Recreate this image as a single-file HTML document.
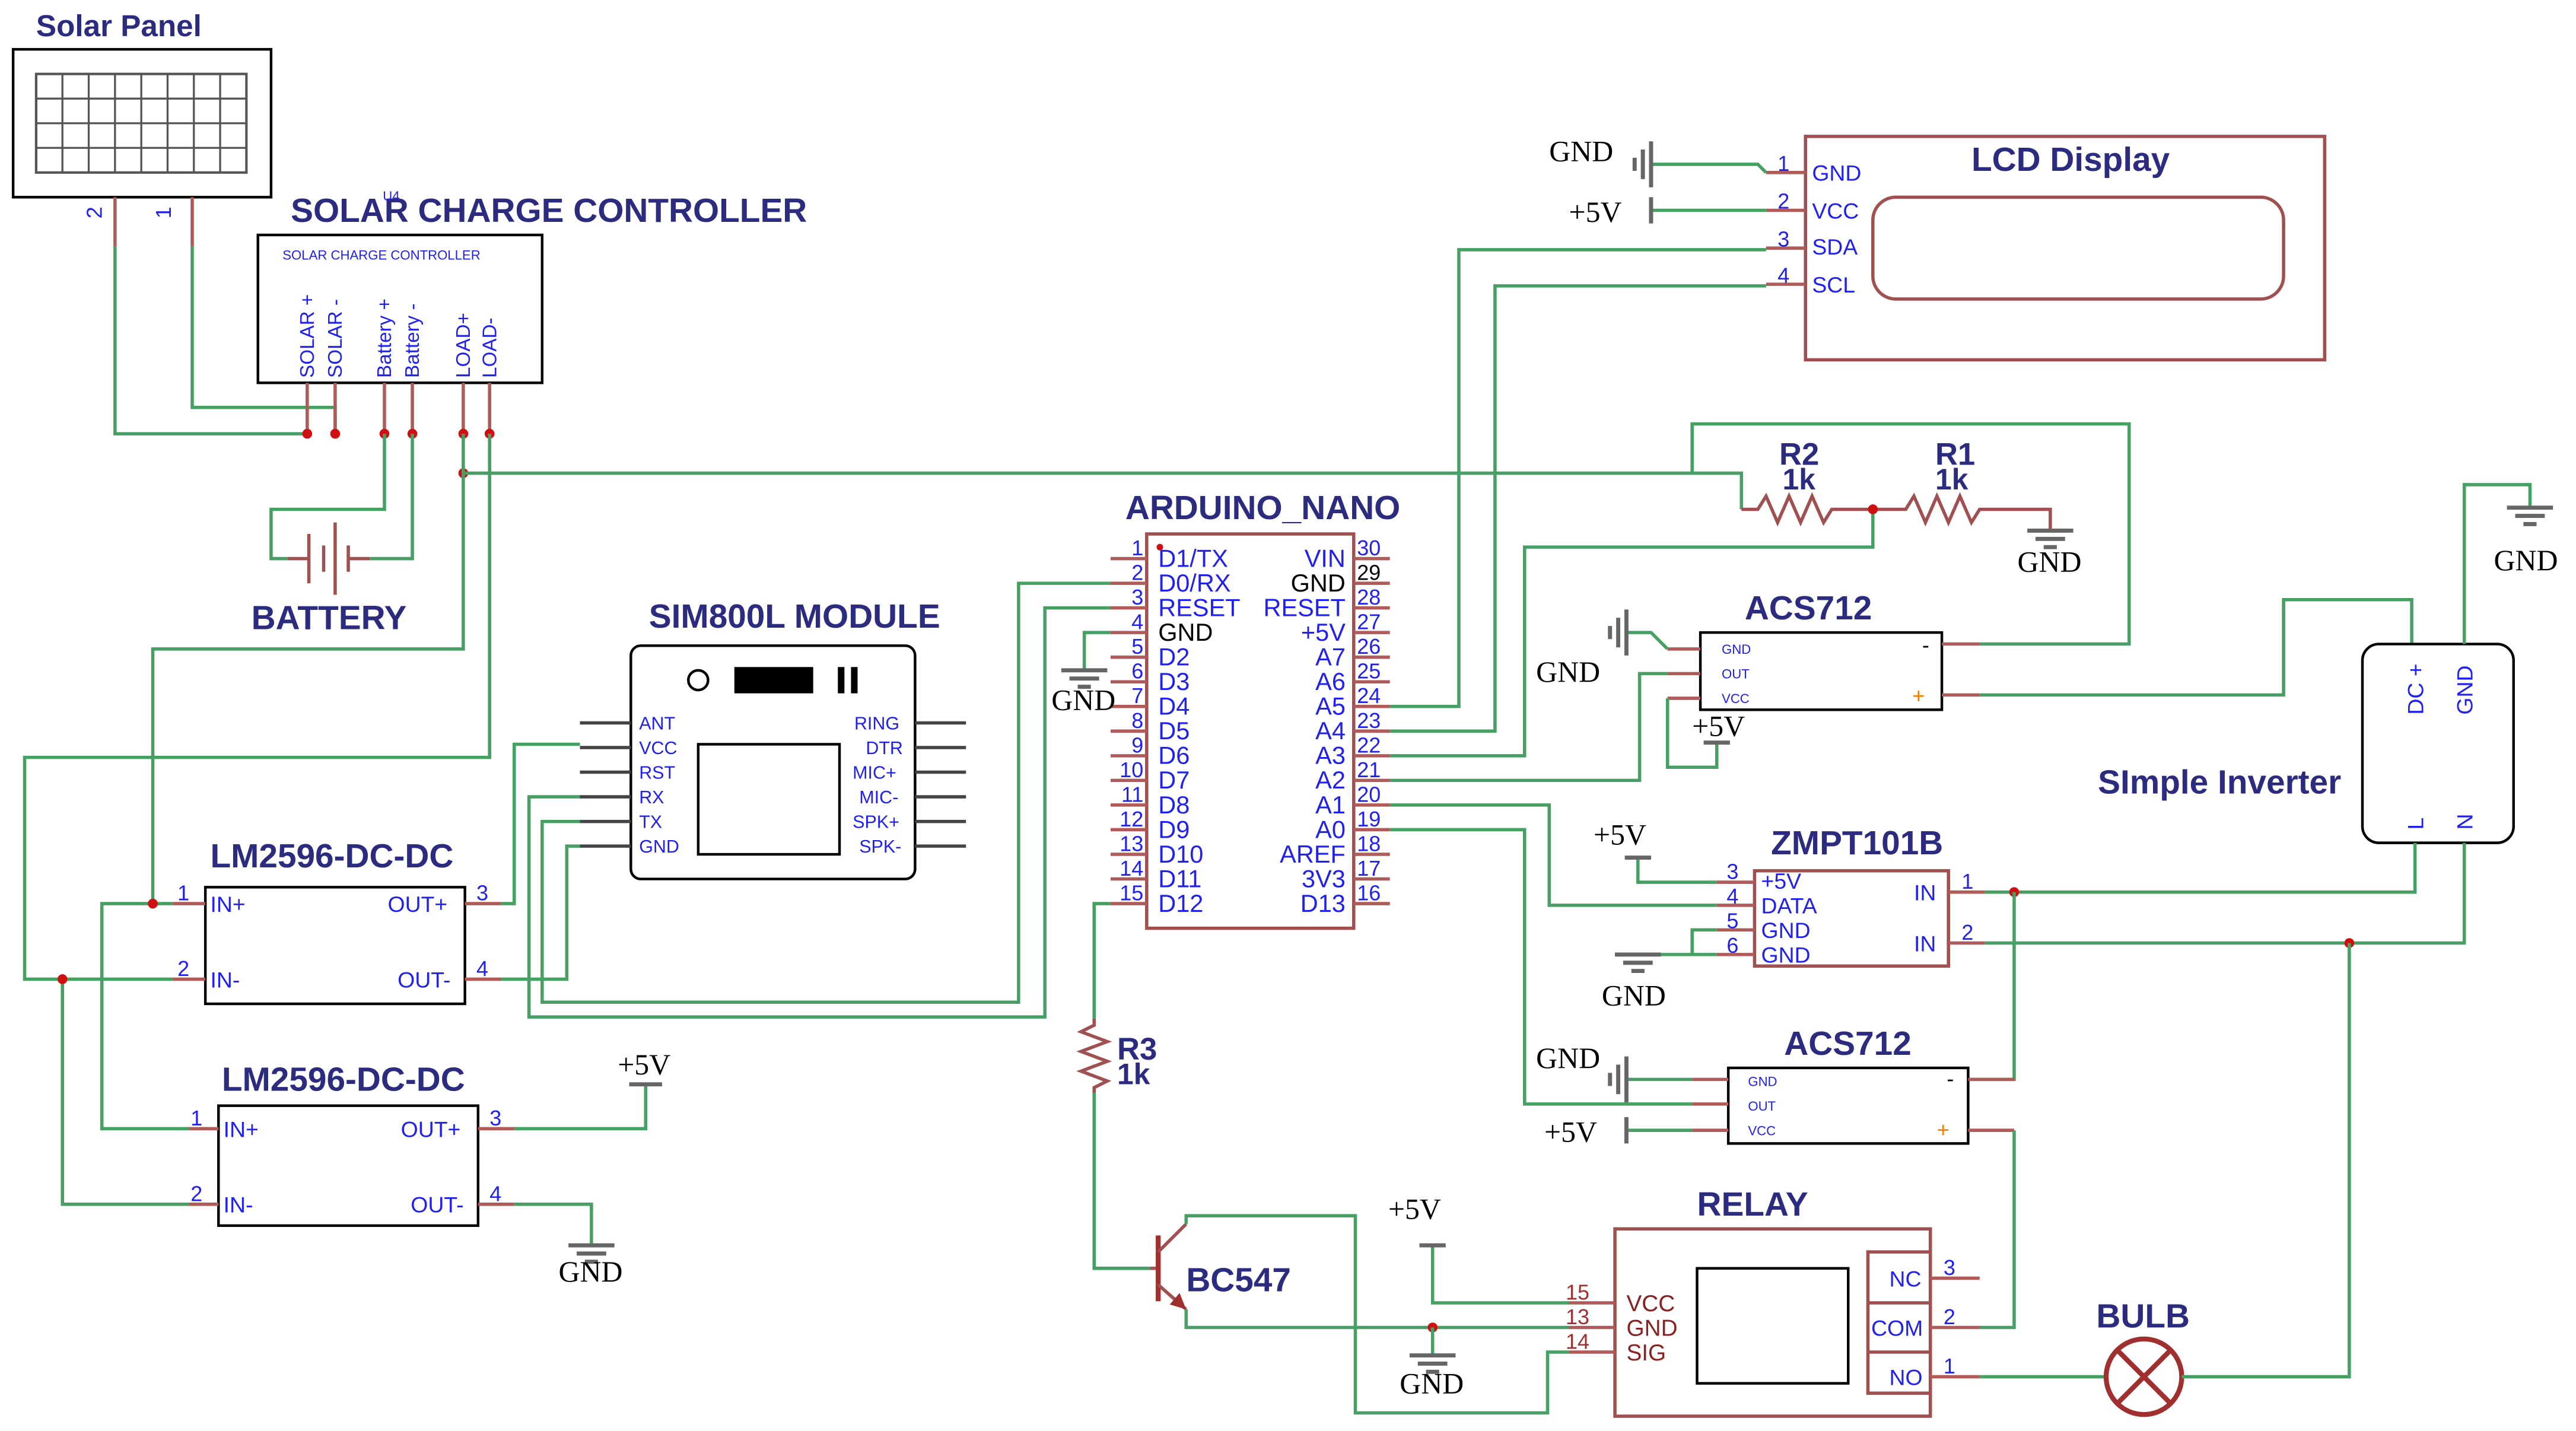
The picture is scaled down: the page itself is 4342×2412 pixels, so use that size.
<!DOCTYPE html>
<html><head><meta charset="utf-8"><style>
html,body{margin:0;padding:0;background:#fff}
svg{display:block}
.w{stroke:#46a064;stroke-width:2;fill:none}
.p{stroke:#b05a5a;stroke-width:2;fill:none}
.k{stroke:#000;stroke-width:1.6;fill:none}
.r{stroke:#a05050;stroke-width:2;fill:none}
.t{font-family:"Liberation Sans",sans-serif;font-weight:bold;fill:#2b2b80;font-size:20.5px}
.l{font-family:"Liberation Sans",sans-serif;fill:#2020f0;font-size:13.5px}
.s{font-family:"Liberation Sans",sans-serif;fill:#2020f0;font-size:8px}
.n{font-family:"Liberation Sans",sans-serif;fill:#2020f0;font-size:13px}
.g{font-family:"Liberation Serif",serif;fill:#000;font-size:18px}
.rn{font-family:"Liberation Sans",sans-serif;fill:#a03030;font-size:13px}
.d{fill:#d01010}
.gs{stroke:#666;stroke-width:2.5}
</style></head><body>
<svg width="4342" height="2412" viewBox="0 0 1568 871" xmlns="http://www.w3.org/2000/svg">
<rect width="1568" height="871" fill="#fff"/>

<!-- Solar panel -->
<text class="t" x="22" y="22" style="font-size:18.5px">Solar Panel</text>
<rect x="8" y="30" width="157" height="90" class="k"/>
<rect x="22" y="45" width="128" height="60" fill="none" stroke="#555" stroke-width="1.5"/>
<g stroke="#555" stroke-width="1.2">
<line x1="38" y1="45" x2="38" y2="105"/><line x1="54" y1="45" x2="54" y2="105"/><line x1="70" y1="45" x2="70" y2="105"/><line x1="86" y1="45" x2="86" y2="105"/><line x1="102" y1="45" x2="102" y2="105"/><line x1="118" y1="45" x2="118" y2="105"/><line x1="134" y1="45" x2="134" y2="105"/>
<line x1="22" y1="60" x2="150" y2="60"/><line x1="22" y1="75" x2="150" y2="75"/><line x1="22" y1="90" x2="150" y2="90"/>
</g>
<line x1="70" y1="120" x2="70" y2="150" class="p"/><line x1="117" y1="120" x2="117" y2="150" class="p"/>
<text class="n" transform="translate(62,133) rotate(-90)">2</text>
<text class="n" transform="translate(104,133) rotate(-90)">1</text>
<polyline class="w" points="70,150 70,264 187,264"/>
<polyline class="w" points="117,150 117,248 204,248 204,264"/>

<!-- Solar charge controller -->
<text class="t" x="177" y="135">SOLAR CHARGE CONTROLLER</text>
<text class="s" x="233" y="122">U4</text>
<rect x="157" y="143" width="173" height="90" class="k"/>
<text class="s" x="172" y="158">SOLAR CHARGE CONTROLLER</text>
<g class="l" style="font-size:12px">
<text transform="translate(191,230) rotate(-90)">SOLAR +</text>
<text transform="translate(208,230) rotate(-90)">SOLAR -</text>
<text transform="translate(238,230) rotate(-90)">Battery +</text>
<text transform="translate(255,230) rotate(-90)">Battery -</text>
<text transform="translate(286,230) rotate(-90)">LOAD+</text>
<text transform="translate(302,230) rotate(-90)">LOAD-</text>
</g>
<g class="p"><line x1="187" y1="233" x2="187" y2="264"/><line x1="204" y1="233" x2="204" y2="264"/><line x1="234" y1="233" x2="234" y2="264"/><line x1="251" y1="233" x2="251" y2="264"/><line x1="282" y1="233" x2="282" y2="264"/><line x1="298" y1="233" x2="298" y2="264"/></g>
<g class="d"><circle cx="187" cy="264" r="3"/><circle cx="204" cy="264" r="3"/><circle cx="234" cy="264" r="3"/><circle cx="251" cy="264" r="3"/><circle cx="282" cy="264" r="3"/><circle cx="298" cy="264" r="3"/><circle cx="282" cy="288" r="3"/></g>

<!-- Battery -->
<polyline class="w" points="234,264 234,310 165,310 165,340 175,340"/>
<polyline class="w" points="251,264 251,340 225,340"/>
<g class="r"><line x1="175" y1="340" x2="188" y2="340"/><line x1="188" y1="325" x2="188" y2="355"/><line x1="197" y1="332" x2="197" y2="348"/><line x1="204" y1="318" x2="204" y2="362"/><line x1="212" y1="332" x2="212" y2="348"/><line x1="212" y1="340" x2="225" y2="340"/></g>
<text class="t" x="153" y="383">BATTERY</text>

<!-- LOAD wires -->
<polyline class="w" points="282,264 282,395 93,395 93,550"/>
<polyline class="w" points="298,264 298,461 15,461 15,596 105,596"/>
<polyline class="w" points="282,288 1060,288 1060,310"/>
<polyline class="w" points="93,550 105,550"/>
<polyline class="w" points="93,550 62,550 62,687 115,687"/>
<polyline class="w" points="38,596 38,733 115,733"/>
<g class="d"><circle cx="93" cy="550" r="3"/><circle cx="38" cy="596" r="3"/></g>

<!-- LM2596 #1 -->
<text class="t" x="128" y="528">LM2596-DC-DC</text>
<rect x="125" y="540" width="158" height="71" class="k"/>
<g class="p"><line x1="105" y1="550" x2="125" y2="550"/><line x1="105" y1="596" x2="125" y2="596"/><line x1="283" y1="550" x2="305" y2="550"/><line x1="283" y1="596" x2="305" y2="596"/></g>
<text class="l" x="128" y="555">IN+</text><text class="l" x="128" y="601">IN-</text>
<text class="l" x="236" y="555">OUT+</text><text class="l" x="242" y="601">OUT-</text>
<text class="n" x="108" y="548">1</text><text class="n" x="108" y="594">2</text>
<text class="n" x="290" y="548">3</text><text class="n" x="290" y="594">4</text>
<polyline class="w" points="305,550 313,550 313,453 353,453"/>
<polyline class="w" points="305,596 345,596 345,515 353,515"/>

<!-- LM2596 #2 -->
<text class="t" x="135" y="664">LM2596-DC-DC</text>
<rect x="133" y="673" width="158" height="73" class="k"/>
<g class="p"><line x1="115" y1="687" x2="133" y2="687"/><line x1="115" y1="733" x2="133" y2="733"/><line x1="291" y1="687" x2="313" y2="687"/><line x1="291" y1="733" x2="313" y2="733"/></g>
<text class="l" x="136" y="692">IN+</text><text class="l" x="136" y="738">IN-</text>
<text class="l" x="244" y="692">OUT+</text><text class="l" x="250" y="738">OUT-</text>
<text class="n" x="116" y="685">1</text><text class="n" x="116" y="731">2</text>
<text class="n" x="298" y="685">3</text><text class="n" x="298" y="731">4</text>
<polyline class="w" points="313,687 393,687 393,660"/>
<line x1="383" y1="660" x2="403" y2="660" stroke="#666" stroke-width="2.5"/>
<text class="g" x="376" y="654">+5V</text>
<polyline class="w" points="313,733 360,733 360,758"/>
<g class="gs"><line x1="346" y1="758" x2="374" y2="758"/><line x1="351" y1="763" x2="369" y2="763"/><line x1="356" y1="768" x2="364" y2="768"/></g>
<text class="g" x="340" y="780">GND</text>

<!-- SIM800L -->
<text class="t" x="395" y="382">SIM800L MODULE</text>
<rect x="384" y="393" width="173" height="142" rx="6" class="k"/>
<rect x="425" y="453" width="86" height="67" class="k"/>
<circle cx="425" cy="414" r="6" class="k"/>
<rect x="447" y="406" width="48" height="16" fill="#000"/>
<rect x="510" y="406" width="4" height="16" fill="#000"/><rect x="518" y="406" width="4" height="16" fill="#000"/>
<g stroke="#444" stroke-width="2">
<line x1="353" y1="440" x2="384" y2="440"/><line x1="353" y1="455" x2="384" y2="455"/><line x1="353" y1="470" x2="384" y2="470"/><line x1="353" y1="485" x2="384" y2="485"/><line x1="353" y1="500" x2="384" y2="500"/><line x1="353" y1="515" x2="384" y2="515"/>
<line x1="557" y1="440" x2="588" y2="440"/><line x1="557" y1="455" x2="588" y2="455"/><line x1="557" y1="470" x2="588" y2="470"/><line x1="557" y1="485" x2="588" y2="485"/><line x1="557" y1="500" x2="588" y2="500"/><line x1="557" y1="515" x2="588" y2="515"/>
</g>
<g class="l" style="font-size:11px">
<text x="389" y="444">ANT</text><text x="389" y="459">VCC</text><text x="389" y="474">RST</text><text x="389" y="489">RX</text><text x="389" y="504">TX</text><text x="389" y="519">GND</text>
<text x="520" y="444">RING</text><text x="527" y="459">DTR</text><text x="519" y="474">MIC+</text><text x="523" y="489">MIC-</text><text x="519" y="504">SPK+</text><text x="523" y="519">SPK-</text>
</g>
<polyline class="w" points="353,485 322,485 322,619 636,619 636,370 676,370"/>
<polyline class="w" points="353,500 330,500 330,610 620,610 620,355 676,355"/>

<!-- Arduino -->
<text class="t" x="685" y="316">ARDUINO_NANO</text>
<rect x="698" y="325" width="126" height="240" class="r"/>
<circle cx="706" cy="333" r="2" class="d"/>
<g class="p">
<line x1="676" y1="340" x2="698" y2="340"/><line x1="676" y1="355" x2="698" y2="355"/><line x1="676" y1="370" x2="698" y2="370"/><line x1="676" y1="385" x2="698" y2="385"/><line x1="676" y1="400" x2="698" y2="400"/><line x1="676" y1="415" x2="698" y2="415"/><line x1="676" y1="430" x2="698" y2="430"/><line x1="676" y1="445" x2="698" y2="445"/><line x1="676" y1="460" x2="698" y2="460"/><line x1="676" y1="475" x2="698" y2="475"/><line x1="676" y1="490" x2="698" y2="490"/><line x1="676" y1="505" x2="698" y2="505"/><line x1="676" y1="520" x2="698" y2="520"/><line x1="676" y1="535" x2="698" y2="535"/><line x1="676" y1="550" x2="698" y2="550"/>
<line x1="824" y1="340" x2="846" y2="340"/><line x1="824" y1="355" x2="846" y2="355"/><line x1="824" y1="370" x2="846" y2="370"/><line x1="824" y1="385" x2="846" y2="385"/><line x1="824" y1="400" x2="846" y2="400"/><line x1="824" y1="415" x2="846" y2="415"/><line x1="824" y1="430" x2="846" y2="430"/><line x1="824" y1="445" x2="846" y2="445"/><line x1="824" y1="460" x2="846" y2="460"/><line x1="824" y1="475" x2="846" y2="475"/><line x1="824" y1="490" x2="846" y2="490"/><line x1="824" y1="505" x2="846" y2="505"/><line x1="824" y1="520" x2="846" y2="520"/><line x1="824" y1="535" x2="846" y2="535"/><line x1="824" y1="550" x2="846" y2="550"/>
</g>
<g class="n" text-anchor="end">
<text x="696" y="338">1</text><text x="696" y="353">2</text><text x="696" y="368">3</text><text x="696" y="383">4</text><text x="696" y="398">5</text><text x="696" y="413">6</text><text x="696" y="428">7</text><text x="696" y="443">8</text><text x="696" y="458">9</text><text x="696" y="473">10</text><text x="696" y="488">11</text><text x="696" y="503">12</text><text x="696" y="518">13</text><text x="696" y="533">14</text><text x="696" y="548">15</text>
</g>
<g class="n">
<text x="826" y="338">30</text><text x="826" y="353" fill="#000">29</text><text x="826" y="368">28</text><text x="826" y="383">27</text><text x="826" y="398">26</text><text x="826" y="413">25</text><text x="826" y="428">24</text><text x="826" y="443">23</text><text x="826" y="458">22</text><text x="826" y="473">21</text><text x="826" y="488">20</text><text x="826" y="503">19</text><text x="826" y="518">18</text><text x="826" y="533">17</text><text x="826" y="548">16</text>
</g>
<g class="l" style="font-size:15px">
<text x="705" y="345">D1/TX</text><text x="705" y="360">D0/RX</text><text x="705" y="375">RESET</text><text x="705" y="390" fill="#000">GND</text><text x="705" y="405">D2</text><text x="705" y="420">D3</text><text x="705" y="435">D4</text><text x="705" y="450">D5</text><text x="705" y="465">D6</text><text x="705" y="480">D7</text><text x="705" y="495">D8</text><text x="705" y="510">D9</text><text x="705" y="525">D10</text><text x="705" y="540">D11</text><text x="705" y="555">D12</text>
</g>
<g class="l" style="font-size:15px" text-anchor="end">
<text x="819" y="345">VIN</text><text x="819" y="360" fill="#000">GND</text><text x="819" y="375">RESET</text><text x="819" y="390">+5V</text><text x="819" y="405">A7</text><text x="819" y="420">A6</text><text x="819" y="435">A5</text><text x="819" y="450">A4</text><text x="819" y="465">A3</text><text x="819" y="480">A2</text><text x="819" y="495">A1</text><text x="819" y="510">A0</text><text x="819" y="525">AREF</text><text x="819" y="540">3V3</text><text x="819" y="555">D13</text>
</g>
<polyline class="w" points="676,385 660,385 660,408"/>
<g class="gs"><line x1="646" y1="408" x2="674" y2="408"/><line x1="651" y1="413" x2="669" y2="413"/><line x1="656" y1="418" x2="664" y2="418"/></g>
<text class="g" x="640" y="432">GND</text>

<!-- Arduino right wires -->
<polyline class="w" points="846,430 888,430 888,152 1075,152"/>
<polyline class="w" points="846,445 910,445 910,174 1075,174"/>
<polyline class="w" points="846,460 928,460 928,333 1140,333 1140,310"/>
<polyline class="w" points="846,475 998,475 998,410 1015,410"/>
<polyline class="w" points="846,490 943,490 943,551 1045,551"/>
<polyline class="w" points="846,505 928,505 928,672 1030,672"/>

<!-- LCD -->
<rect x="1099" y="83" width="316" height="136" class="r"/>
<rect x="1140" y="120" width="250" height="62" rx="14" class="r"/>
<text class="t" x="1200" y="104">LCD Display</text>
<g class="p"><line x1="1075" y1="105" x2="1099" y2="105"/><line x1="1075" y1="128" x2="1099" y2="128"/><line x1="1075" y1="151" x2="1099" y2="151"/><line x1="1075" y1="173" x2="1099" y2="173"/></g>
<g class="l"><text x="1103" y="110">GND</text><text x="1103" y="133">VCC</text><text x="1103" y="155">SDA</text><text x="1103" y="178">SCL</text></g>
<g class="n"><text x="1082" y="104">1</text><text x="1082" y="127">2</text><text x="1082" y="150">3</text><text x="1082" y="172">4</text></g>
<polyline class="w" points="1075,105 1070,100 1005,100"/>
<g class="gs"><line x1="1005" y1="86" x2="1005" y2="114"/><line x1="1000" y1="91" x2="1000" y2="109"/><line x1="995" y1="96" x2="995" y2="104"/></g>
<text class="g" x="943" y="98">GND</text>
<line x1="1005" y1="128" x2="1075" y2="128" class="w"/>
<line x1="1005" y1="120" x2="1005" y2="136" stroke="#666" stroke-width="2.5"/>
<text class="g" x="955" y="135">+5V</text>

<!-- Resistors R2 R1 -->
<polyline class="r" points="1060,310 1070,310 1075,302 1082,318 1089,302 1096,318 1103,302 1110,318 1115,310 1140,310"/>
<polyline class="r" points="1140,310 1160,310 1165,302 1172,318 1179,302 1186,318 1193,302 1200,318 1205,310 1248,310 1248,322"/>
<circle cx="1140" cy="310" r="3" class="d"/>
<text class="t" x="1083" y="283" style="font-size:19px">R2</text><text class="t" x="1085" y="298" style="font-size:18px">1k</text>
<text class="t" x="1178" y="283" style="font-size:19px">R1</text><text class="t" x="1178" y="298" style="font-size:18px">1k</text>
<g class="gs"><line x1="1234" y1="323" x2="1262" y2="323"/><line x1="1239" y1="328" x2="1257" y2="328"/><line x1="1244" y1="333" x2="1252" y2="333"/></g>
<text class="g" x="1228" y="348">GND</text>
<polyline class="w" points="1030,288 1030,258 1296,258 1296,392 1205,392"/>

<!-- ACS712 #1 -->
<text class="t" x="1062" y="377">ACS712</text>
<rect x="1035" y="385" width="147" height="47" class="k"/>
<g class="p"><line x1="1015" y1="395" x2="1035" y2="395"/><line x1="1015" y1="410" x2="1035" y2="410"/><line x1="1015" y1="425" x2="1035" y2="425"/><line x1="1182" y1="392" x2="1205" y2="392"/><line x1="1182" y1="423" x2="1205" y2="423"/></g>
<g class="s"><text x="1048" y="398">GND</text><text x="1048" y="413">OUT</text><text x="1048" y="428">VCC</text></g>
<text x="1170" y="397" style="font-size:13px;font-family:'Liberation Sans'">-</text>
<text x="1164" y="428" fill="#f08000" style="font-size:13px;font-family:'Liberation Sans'">+</text>
<polyline class="w" points="1015,395 1005,385 990,385"/>
<g class="gs"><line x1="990" y1="371" x2="990" y2="399"/><line x1="985" y1="376" x2="985" y2="394"/><line x1="980" y1="381" x2="980" y2="389"/></g>
<text class="g" x="935" y="415">GND</text>
<polyline class="w" points="1015,425 1015,467 1045,467 1045,452"/>
<line x1="1037" y1="452" x2="1053" y2="452" stroke="#666" stroke-width="2.5"/>
<text class="g" x="1030" y="448">+5V</text>
<polyline class="w" points="1205,423 1390,423 1390,365 1468,365 1468,392"/>

<!-- Inverter -->
<rect x="1438" y="392" width="92" height="121" rx="10" class="k"/>
<text class="l" transform="translate(1475,435) rotate(-90)">DC +</text>
<text class="l" transform="translate(1505,435) rotate(-90)">GND</text>
<text class="l" transform="translate(1475,505) rotate(-90)">L</text>
<text class="l" transform="translate(1505,505) rotate(-90)">N</text>
<text class="t" x="1277" y="483">SImple Inverter</text>
<polyline class="w" points="1500,392 1500,295 1540,295 1540,308"/>
<g class="gs"><line x1="1526" y1="309" x2="1554" y2="309"/><line x1="1531" y1="314" x2="1549" y2="314"/><line x1="1536" y1="319" x2="1544" y2="319"/></g>
<text class="g" x="1518" y="347">GND</text>
<polyline class="w" points="1470,513 1470,543 1208,543"/>
<polyline class="w" points="1500,513 1500,574 1208,574"/>
<g class="d"><circle cx="1226" cy="543" r="3"/><circle cx="1430" cy="574" r="3"/></g>

<!-- ZMPT101B -->
<text class="t" x="1078" y="520">ZMPT101B</text>
<rect x="1068" y="530" width="118" height="58" class="r"/>
<g class="p"><line x1="1045" y1="537" x2="1068" y2="537"/><line x1="1045" y1="551" x2="1068" y2="551"/><line x1="1045" y1="566" x2="1068" y2="566"/><line x1="1045" y1="581" x2="1068" y2="581"/><line x1="1186" y1="543" x2="1208" y2="543"/><line x1="1186" y1="574" x2="1208" y2="574"/></g>
<g class="l"><text x="1072" y="541">+5V</text><text x="1072" y="556">DATA</text><text x="1072" y="571">GND</text><text x="1072" y="586">GND</text><text x="1165" y="548">IN</text><text x="1165" y="579">IN</text></g>
<g class="n"><text x="1051" y="535">3</text><text x="1051" y="550">4</text><text x="1051" y="565">5</text><text x="1051" y="580">6</text><text x="1194" y="541">1</text><text x="1194" y="572">2</text></g>
<polyline class="w" points="1045,537 997,537 997,522"/>
<line x1="989" y1="522" x2="1005" y2="522" stroke="#666" stroke-width="2.5"/>
<text class="g" x="970" y="514">+5V</text>
<polyline class="w" points="1045,566 1030,566 1030,581"/>
<polyline class="w" points="1045,581 997,581"/>
<g class="gs"><line x1="983" y1="581" x2="1011" y2="581"/><line x1="988" y1="586" x2="1006" y2="586"/><line x1="993" y1="591" x2="1001" y2="591"/></g>
<text class="g" x="975" y="612">GND</text>
<polyline class="w" points="1226,543 1226,657 1198,657"/>

<!-- ACS712 #2 -->
<text class="t" x="1086" y="642">ACS712</text>
<rect x="1052" y="650" width="146" height="46" class="k"/>
<g class="p"><line x1="1030" y1="657" x2="1052" y2="657"/><line x1="1030" y1="672" x2="1052" y2="672"/><line x1="1030" y1="688" x2="1052" y2="688"/><line x1="1198" y1="657" x2="1226" y2="657"/><line x1="1198" y1="688" x2="1226" y2="688"/></g>
<g class="s"><text x="1064" y="661">GND</text><text x="1064" y="676">OUT</text><text x="1064" y="691">VCC</text></g>
<text x="1185" y="661" style="font-size:13px;font-family:'Liberation Sans'">-</text>
<text x="1179" y="692" fill="#f08000" style="font-size:13px;font-family:'Liberation Sans'">+</text>
<polyline class="w" points="1030,657 990,657"/>
<g class="gs"><line x1="990" y1="643" x2="990" y2="671"/><line x1="985" y1="648" x2="985" y2="666"/><line x1="980" y1="653" x2="980" y2="661"/></g>
<text class="g" x="935" y="650">GND</text>
<line x1="990" y1="688" x2="1030" y2="688" class="w"/>
<line x1="990" y1="680" x2="990" y2="696" stroke="#666" stroke-width="2.5"/>
<text class="g" x="940" y="695">+5V</text>
<polyline class="w" points="1226,688 1226,808 1205,808"/>

<!-- Relay -->
<text class="t" x="1033" y="740">RELAY</text>
<rect x="983" y="748" width="192" height="114" class="r"/>
<rect x="1033" y="772" width="92" height="70" class="k"/>
<rect x="1137" y="762" width="38" height="86" class="r"/>
<line x1="1137" y1="793" x2="1175" y2="793" class="r"/><line x1="1137" y1="823" x2="1175" y2="823" class="r"/>
<g class="l"><text x="1150" y="783">NC</text><text x="1139" y="813">COM</text><text x="1150" y="843">NO</text></g>
<g class="p"><line x1="955" y1="793" x2="983" y2="793"/><line x1="955" y1="808" x2="983" y2="808"/><line x1="955" y1="823" x2="983" y2="823"/><line x1="1175" y1="778" x2="1205" y2="778"/><line x1="1175" y1="808" x2="1205" y2="808"/><line x1="1175" y1="838" x2="1205" y2="838"/></g>
<g class="rn"><text x="953" y="791">15</text><text x="953" y="806">13</text><text x="953" y="821">14</text></g>
<g class="l" style="fill:#8a2020;font-size:14px"><text x="990" y="798">VCC</text><text x="990" y="813">GND</text><text x="990" y="828">SIG</text></g>
<g class="n"><text x="1183" y="776">3</text><text x="1183" y="806">2</text><text x="1183" y="836">1</text></g>

<!-- Bulb -->
<text class="t" x="1276" y="808">BULB</text>
<line x1="1205" y1="838" x2="1282" y2="838" class="w"/>
<circle cx="1305" cy="838" r="23" stroke="#a03030" stroke-width="3" fill="none"/>
<line x1="1289" y1="822" x2="1321" y2="854" stroke="#a03030" stroke-width="3"/>
<line x1="1321" y1="822" x2="1289" y2="854" stroke="#a03030" stroke-width="3"/>
<polyline class="w" points="1328,838 1430,838 1430,574"/>

<!-- R3 and transistor -->
<polyline class="w" points="676,550 666,550 666,620"/>
<polyline class="r" points="666,620 666,624 658,628 674,634 658,640 674,646 658,652 674,658 666,662 666,665"/>
<text class="t" x="680" y="645" style="font-size:19px">R3</text><text class="t" x="680" y="660" style="font-size:18px">1k</text>
<polyline class="w" points="666,665 666,772 700,772"/>
<line x1="700" y1="772" x2="705" y2="772" class="r"/>
<line x1="705" y1="752" x2="705" y2="792" stroke="#a03030" stroke-width="3"/>
<line x1="705" y1="762" x2="722" y2="745" class="r"/>
<line x1="705" y1="782" x2="722" y2="797" class="r"/>
<polygon points="722,797 712,794 718,787" fill="#a03030"/>
<text class="t" x="722" y="786">BC547</text>
<polyline class="w" points="722,745 722,740 825,740 825,860 942,860 942,823 955,823"/>
<polyline class="w" points="722,797 722,808 955,808"/>
<circle cx="872" cy="808" r="3" class="d"/>
<polyline class="w" points="872,808 872,825"/>
<g class="gs"><line x1="858" y1="825" x2="886" y2="825"/><line x1="863" y1="830" x2="881" y2="830"/><line x1="868" y1="835" x2="876" y2="835"/></g>
<text class="g" x="852" y="848">GND</text>
<polyline class="w" points="872,758 872,793 955,793"/>
<line x1="864" y1="758" x2="880" y2="758" stroke="#666" stroke-width="2.5"/>
<text class="g" x="845" y="742">+5V</text>
</svg>
</body></html>
